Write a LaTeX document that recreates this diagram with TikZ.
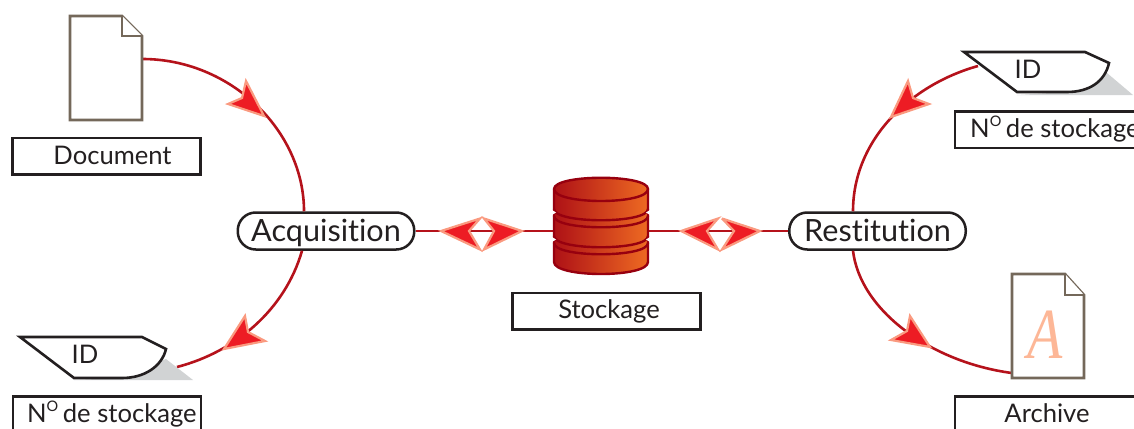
\documentclass[tikz,border=0pt]{standalone}
\usepackage{fontspec}
\setmainfont[Ligatures=NoCommon]{Lato}
\newfontfamily\serifA{Liberation Serif}
\definecolor{wire}{HTML}{B5121B}
\definecolor{headred}{HTML}{ED1C24}
\definecolor{headedge}{HTML}{FA9A80}
\definecolor{docedge}{HTML}{74685A}
\definecolor{ink}{HTML}{231F20}
\definecolor{shadowgrey}{HTML}{D1D3D4}
\definecolor{cyldark}{HTML}{97000F}
\definecolor{cylleft}{HTML}{AE1116}
\definecolor{cylright}{HTML}{EE6A22}
\definecolor{letterA}{HTML}{FDB797}
\newcommand{\supO}{\raisebox{.42em}{\fontsize{14.5}{15}\selectfont O}\hspace{-2pt}}
\tikzset{
  labelbox/.style={draw=ink,line width=2.5pt,fill=white,minimum width=188pt,minimum height=36.5pt,inner sep=0pt,anchor=north west},
  labeltext/.style={font=\fontsize{25.6}{30}\selectfont,text=ink,inner sep=0pt,anchor=base},
  pill/.style={draw=ink,line width=2.5pt,fill=white,rounded corners=18pt,minimum width=176.5pt,minimum height=37pt,inner sep=0pt,font=\fontsize{30.6}{36}\selectfont,text=ink,text height=22pt,text depth=2pt},
  ghostdoc/.style={minimum width=72pt,minimum height=104pt,inner sep=0pt},
  docline/.style={draw=docedge,line width=2.6pt,fill=white,line join=miter},
  wireline/.style={draw=wire,line width=2.6pt},
  redhead/.style={fill=headred,draw=headedge,line width=2.2pt,line join=miter,miter limit=4},
  cardline/.style={draw=ink,line width=2.6pt,fill=white,line join=miter},
  cylline/.style={draw=cyldark,line width=2.4pt},
}
\begin{document}
\begin{tikzpicture}[x=1pt,y=-1pt]
\useasboundingbox (0,0) rectangle (1134,428);
% anchor nodes
\node[pill] (acq) at (326,231) {Acquisition};
\node[pill] (rest) at (877.5,231) {Restitution};
\node[ghostdoc] (doc) at (106,68) {};
\node[ghostdoc] (arch) at (1048,326) {};
\node[minimum width=94pt,minimum height=86pt,inner sep=0pt] (stor) at (601,231) {};
\coordinate (cardTR) at (978,66);
\coordinate (cardBL) at (177,367);
% connectors
\draw[wireline] (doc.east |- 0,59) .. controls (231,59) and (304,131) .. (acq.north -| 304,0);
\draw[wireline] (acq.south -| 302,0) .. controls (285,310) and (235,352) .. (cardBL);
\draw[wireline] (cardTR) .. controls (910,85) and (853,140) .. (rest.north -| 853,0);
\draw[wireline] (rest.south -| 853,0) .. controls (860,310) and (930,362) .. (arch.west |- 0,373);
% white diamonds
\fill[white] (482,217) -- (470,231) -- (482,251) -- (493,231) -- cycle;
\fill[white] (720,217) -- (708,231) -- (720,251) -- (733,231) -- cycle;
\draw[wireline] (acq.east) -- (stor.west);
\draw[wireline] (stor.east) -- (rest.west);
% arrowheads
\path[redhead] (264,116) -- (246,81) -- (242,98) -- (228,104) -- cycle;
\path[redhead] (891,117) -- (908,81) -- (913,98) -- (929,104) -- cycle;
\path[redhead] (930,347) -- (910,316) -- (907,331) -- (891,340) -- cycle;
\path[redhead] (224,349) -- (245,316) -- (248,332) -- (265,341) -- cycle;
\path[redhead] (441,231) -- (480,218.5) -- (469,231) -- (480,249.5) -- cycle;
\path[redhead] (522,231) -- (484,218.5) -- (494,231) -- (484,249.5) -- cycle;
\path[redhead] (681,231) -- (718,218.5) -- (707,231) -- (718,249.5) -- cycle;
\path[redhead] (760,231) -- (722,218.5) -- (734,231) -- (722,249.5) -- cycle;
% documents
\path[docline] (70,16) -- (122,16) -- (142,36) -- (142,120) -- (70,120) -- cycle;
\path[docline] (122,16) -- (122,36) -- (142,36);
\path[docline] (1012,274) -- (1065,274) -- (1084,295) -- (1084,378) -- (1012,378) -- cycle;
\path[docline] (1065,274) -- (1065,295) -- (1084,295);
\node[font=\fontsize{72}{72}\selectfont\serifA\itshape,text=letterA,inner sep=0pt] (letter) at (1045,335) {\scalebox{.8}[1]{A}};
% cards
\fill[shadowgrey] (166,359) -- (193,380) -- (74,380) -- (120,378) -- cycle;
\fill[shadowgrey] (1107,73) -- (1133,95) -- (1017,95) -- (1067,92) -- cycle;
\path[cardline] (20,337) -- (142,337) -- (166,349) .. controls (162,366) and (145,378) .. (122,378) -- (74,378) -- cycle;
\path[cardline] (964,52) -- (1085,52) -- (1109,63) .. controls (1105,81) and (1090,92) .. (1067,92) -- (1017,92) -- cycle;
\node[labeltext] (idbl) at (85,363) {ID};
\node[labeltext] (idtr) at (1028,78) {ID};
% cylinder
\shade[left color=cylleft,right color=cylright] (554,189) -- (554,262) .. controls (554,278) and (648,278) .. (648,262) -- (648,189) .. controls (648,174) and (554,174) .. (554,189) -- cycle;
\draw[cylline] (554,189) -- (554,262) .. controls (554,278) and (648,278) .. (648,262) -- (648,189) .. controls (648,174) and (554,174) .. (554,189) -- cycle;
\draw[cylline] (554,189) .. controls (554,205) and (648,205) .. (648,189);
\draw[cylline] (554,209) .. controls (554,224) and (648,224) .. (648,209);
\draw[cylline] (554,216) .. controls (554,231) and (648,231) .. (648,216);
\draw[cylline] (554,236) .. controls (554,251) and (648,251) .. (648,236);
\draw[cylline] (554,243) .. controls (554,258) and (648,258) .. (648,243);
\fill[white] (552,210) -- (556,212.5) -- (552,215) -- cycle;
\fill[white] (650,210) -- (646,212.5) -- (650,215) -- cycle;
\fill[white] (552,237) -- (556,239.5) -- (552,242) -- cycle;
\fill[white] (650,237) -- (646,239.5) -- (650,242) -- cycle;
% labels
\node[labelbox] (lbdoc) at (11,136.5) {};
\node[labeltext] (ltdoc) at (112.5,164) {Document};
\node[labelbox] (lbstor) at (511,291.5) {};
\node[labeltext] (ltstor) at (609,318) {Stockage};
\node[labelbox] (lbnotr) at (953.5,110) {};
\node[labeltext,anchor=base west] (ltnotr) at (970,137) {N\supO{} de stockage};
\node[labelbox] (lbarch) at (953.5,395) {};
\node[labeltext] (ltarch) at (1047,422) {Archive};
\node[labelbox] (lbnobl) at (11.5,395) {};
\node[labeltext,anchor=base west] (ltnobl) at (27,422) {N\supO{} de stockage};
\end{tikzpicture}
\end{document}
